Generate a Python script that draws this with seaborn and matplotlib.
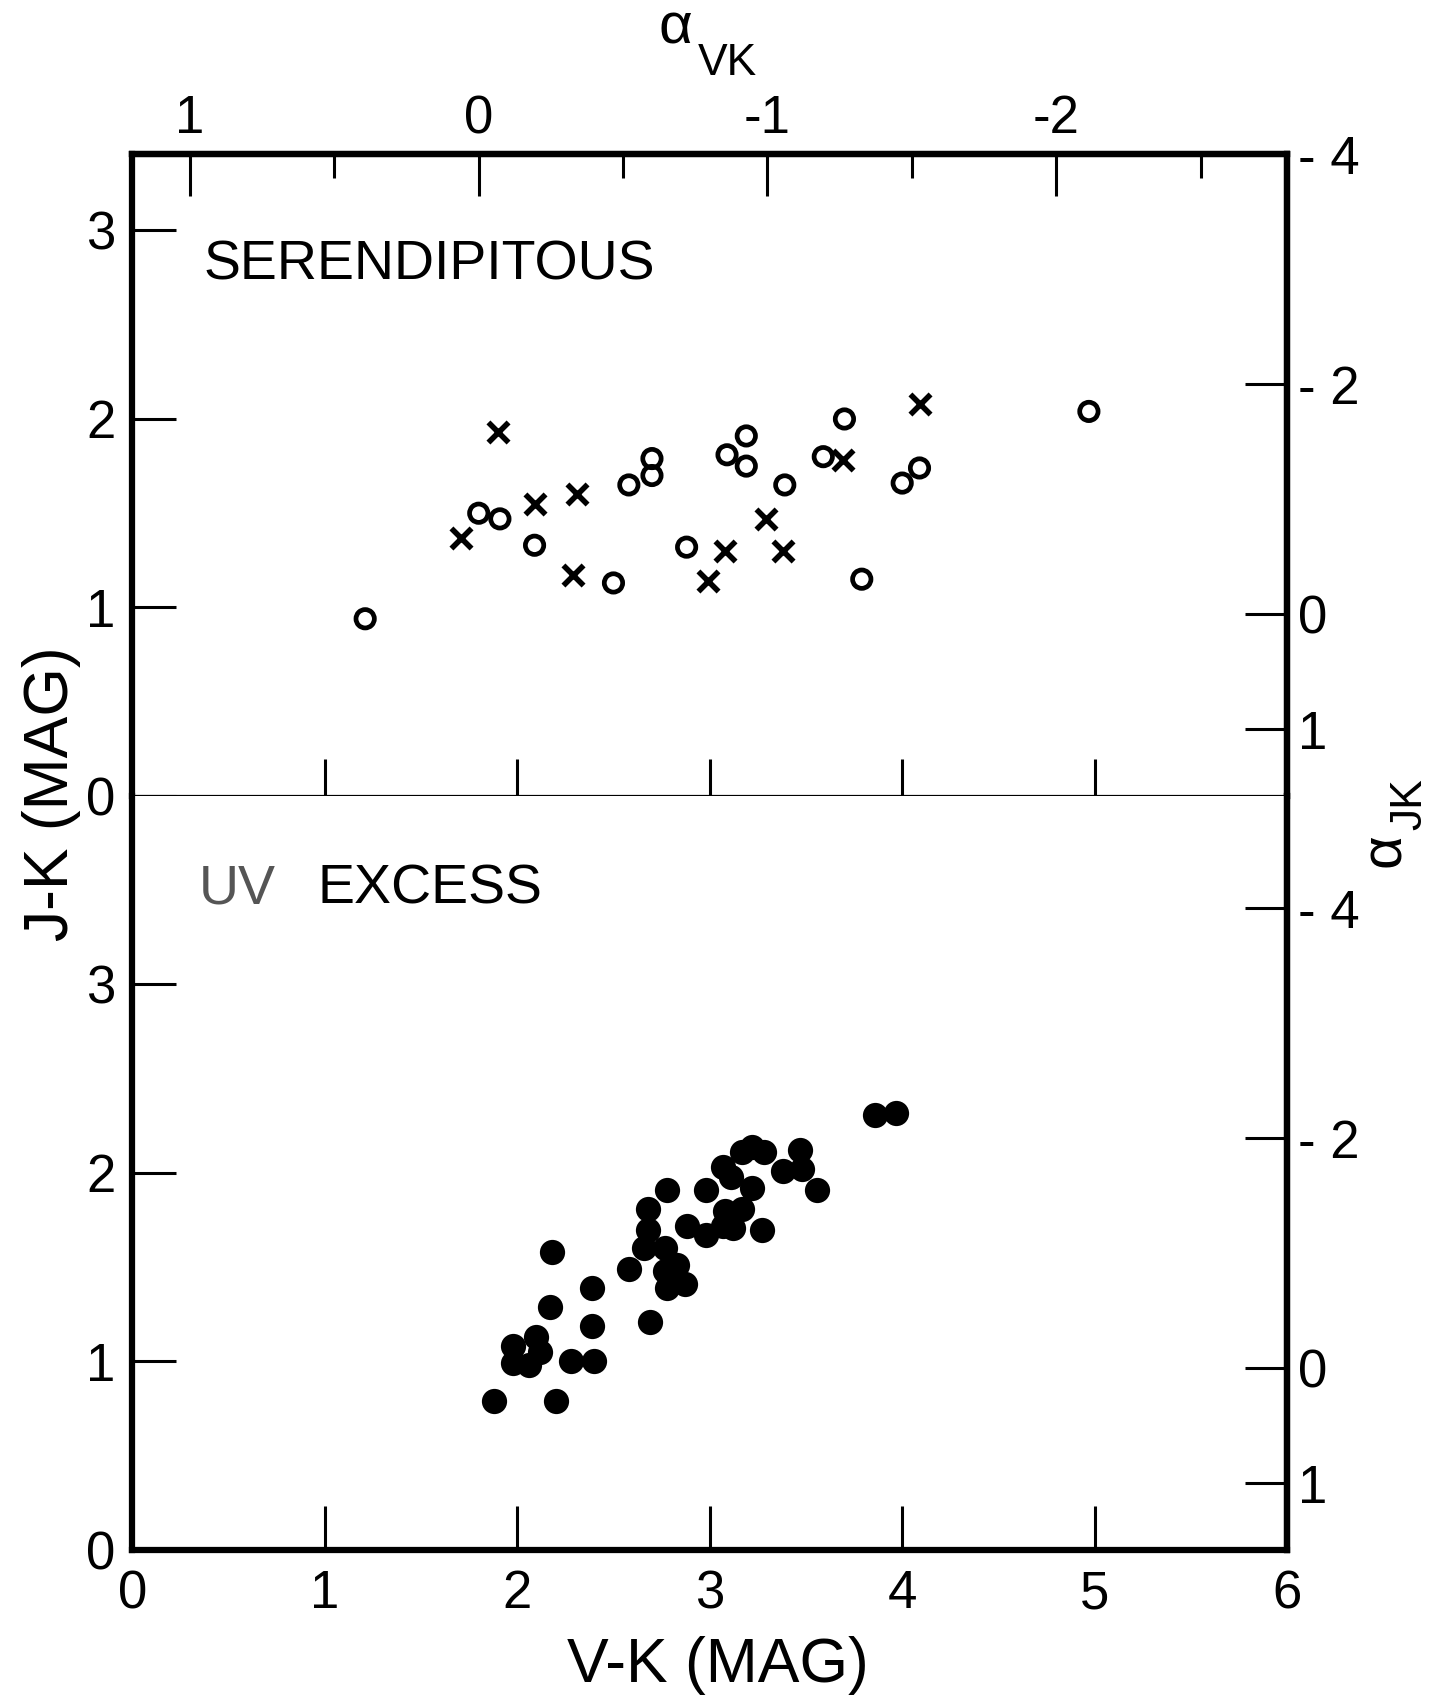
import seaborn as sns
import matplotlib.pyplot as plt
import pandas as pd

# Datos
# ------------------------------------------------------------------------------
# Panel superior (SERENDIPITOUS): circulos abiertos
ser_circ_vk = [1.21, 1.80, 1.91, 2.09, 2.50, 2.58, 2.70, 2.70, 2.88, 3.09,
               3.19, 3.19, 3.39, 3.59, 3.70, 3.79, 4.00, 4.09, 4.97]
ser_circ_jk = [0.94, 1.50, 1.47, 1.33, 1.13, 1.65, 1.79, 1.70, 1.32, 1.81,
               1.91, 1.75, 1.65, 1.80, 2.00, 1.15, 1.66, 1.74, 2.04]

# Panel superior: cruces
ser_x_vk = [1.71, 1.90, 2.09, 2.31, 2.29, 2.99, 3.08, 3.29, 3.38, 3.69, 4.09]
ser_x_jk = [1.37, 1.93, 1.55, 1.60, 1.17, 1.14, 1.30, 1.47, 1.30, 1.78, 2.08]

# Panel inferior (UV EXCESS): circulos llenos
uv_vk = [1.88, 2.20, 1.98, 2.10, 2.12, 1.98, 2.06, 2.28, 2.40, 2.17, 2.18,
         2.39, 2.39, 2.58, 2.69, 2.68, 2.68, 2.66, 2.77, 2.83, 2.77, 2.78,
         2.87, 2.78, 2.88, 2.98, 2.98, 3.07, 3.12, 3.08, 3.17, 3.07, 3.11,
         3.22, 3.17, 3.22, 3.28, 3.27, 3.38, 3.47, 3.48, 3.56, 3.86, 3.97]
uv_jk = [0.79, 0.79, 1.08, 1.13, 1.05, 0.99, 0.98, 1.00, 1.00, 1.29, 1.58,
         1.39, 1.19, 1.49, 1.21, 1.81, 1.70, 1.60, 1.60, 1.51, 1.48, 1.39,
         1.41, 1.91, 1.72, 1.91, 1.67, 1.72, 1.71, 1.80, 1.81, 2.03, 1.98,
         1.92, 2.11, 2.14, 2.11, 1.70, 2.01, 2.12, 2.02, 1.91, 2.31, 2.32]

# Ejes y etiquetas
vk_ticks = [0, 1, 2, 3, 4, 5, 6]
jk_ticks = [0, 1, 2, 3]
alpha_vk_ticks = [1, 0, -1, -2]
alpha_vk_minor = [0.5, -0.5, -1.5, -2.5]
alpha_jk_ticks = [-4, -2, 0, 1]
alpha_jk_labels = ["- 4", "- 2", "0", "1"]

df_circ = pd.DataFrame({"vk": ser_circ_vk, "jk": ser_circ_jk})
df_x = pd.DataFrame({"vk": ser_x_vk, "jk": ser_x_jk})
df_uv = pd.DataFrame({"vk": uv_vk, "jk": uv_jk})


# Conversiones de color a indice espectral
def vk_a_alpha(x):
    return (1.80 - x) / 1.50


def alpha_a_vk(a):
    return 1.80 - 1.50 * a


def jk_a_alpha(y):
    return (0.965 - y) / 0.61


def alpha_a_jk(a):
    return 0.965 - 0.61 * a


sns.set_style("white")
plt.rcParams["font.family"] = ["Liberation Sans", "DejaVu Sans"]
for clave in ["text.color", "axes.labelcolor", "xtick.color", "ytick.color",
              "axes.edgecolor"]:
    plt.rcParams[clave] = "black"

LW = 4.5
TICK_FS = 38

fig = plt.figure(figsize=(14.3, 16.96), dpi=100)
ax_top = fig.add_axes([0.0925, 0.5307, 0.8076, 0.3784])
ax_bot = fig.add_axes([0.0925, 0.0861, 0.8076, 0.4446])

# Panel superior
sns.scatterplot(x="vk", y="jk", data=df_circ, ax=ax_top, marker="o", s=175,
                color="black", edgecolor="black", linewidth=3.4)
ax_top.collections[-1].set_facecolor("none")
sns.scatterplot(x="vk", y="jk", data=df_x, ax=ax_top, marker="x", s=210,
                color="black", linewidth=4.0)

# Panel inferior
sns.scatterplot(x="vk", y="jk", data=df_uv, ax=ax_bot, marker="o", s=330,
                color="black", edgecolor="black", linewidth=0)

ax_top.set_xlim(0, 6)
ax_top.set_ylim(0, 3.405)
ax_bot.set_xlim(0, 6)
ax_bot.set_ylim(0, 4.0)

for ax in (ax_top, ax_bot):
    ax.set_xlabel("")
    ax.set_ylabel("")
    ax.set_yticks(jk_ticks)
    ax.set_yticklabels([str(t) for t in jk_ticks])
    ax.tick_params(axis="y", direction="in", length=32, width=2.2,
                   labelsize=TICK_FS, pad=12, left=True, right=False)
    for lado in ["left", "right", "top", "bottom"]:
        ax.spines[lado].set_linewidth(LW)
        ax.spines[lado].set_color("black")

ax_top.set_xticks([1, 2, 3, 4, 5])
ax_top.tick_params(axis="x", direction="in", length=27, width=2.2,
                   labelbottom=False, bottom=True, top=False)
ax_top.spines["bottom"].set_linewidth(1.6)
ax_bot.spines["top"].set_visible(False)

ax_bot.set_xticks(vk_ticks)
ax_bot.set_xticklabels([str(t) for t in vk_ticks])
ax_bot.tick_params(axis="x", direction="in", length=32, width=2.2,
                   labelsize=TICK_FS, pad=14, bottom=True, top=False)

# Eje superior: alfa_VK
sec_x = ax_top.secondary_xaxis("top", functions=(vk_a_alpha, alpha_a_vk))
sec_x.set_xticks(alpha_vk_ticks, labels=[str(t) for t in alpha_vk_ticks])
sec_x.set_xticks(alpha_vk_minor, minor=True)
sec_x.tick_params(axis="x", which="major", direction="in", length=30,
                  width=2.2, labelsize=TICK_FS, pad=7)
sec_x.tick_params(axis="x", which="minor", direction="in", length=17,
                  width=2.2)
for sp in sec_x.spines.values():
    sp.set_linewidth(LW)

# Eje derecho: alfa_JK en ambos paneles
for ax in (ax_top, ax_bot):
    sec_y = ax.secondary_yaxis("right", functions=(jk_a_alpha, alpha_a_jk))
    sec_y.set_yticks(alpha_jk_ticks, labels=alpha_jk_labels)
    sec_y.tick_params(axis="y", direction="in", length=30, width=2.2,
                      labelsize=TICK_FS, pad=8)
    for sp in sec_y.spines.values():
        sp.set_linewidth(LW)

# Rotulos de los paneles
ax_top.text(0.37, 2.74, "SERENDIPITOUS", fontsize=40, ha="left", va="baseline")
ax_bot.text(0.345, 3.43, "UV", fontsize=40, ha="left", va="baseline",
            color="#555555")
ax_bot.text(0.96, 3.43, "EXCESS", fontsize=40, ha="left", va="baseline")

# Titulos de los ejes
fig.text(0.502, 0.018, "V-K (MAG)", fontsize=45, ha="center", va="center")
fig.text(0.036, 0.532, "J-K (MAG)", fontsize=45, ha="center", va="center",
         rotation=90)

# alfa con subindice grande, como en el original
fig.text(0.4605, 0.999, "α", fontsize=42, ha="left", va="top")
fig.text(0.488, 0.9558, "VK", fontsize=32, ha="left", va="baseline")
fig.text(0.9685, 0.4988, "α", fontsize=42, ha="center", va="center",
         rotation=90)
fig.text(0.986, 0.526, "JK", fontsize=32, ha="center", va="center",
         rotation=90)

fig.savefig("out.png", dpi=100, facecolor="white")
